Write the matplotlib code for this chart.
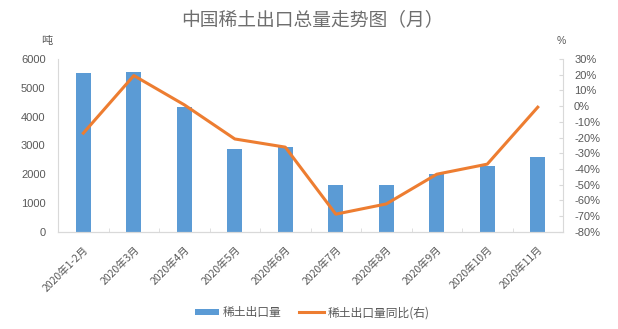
import matplotlib
matplotlib.use("Agg")
import matplotlib.pyplot as plt
import numpy as np

plt.rcParams['font.family'] = ['Noto Sans CJK SC', 'DejaVu Sans']

categories = ["2020年1-2月", "2020年3月", "2020年4月", "2020年5月", "2020年6月",
              "2020年7月", "2020年8月", "2020年9月", "2020年10月", "2020年11月"]
export_volume = [5500, 5560, 4330, 2870, 2950, 1640, 1640, 2010, 2300, 2600]
yoy_change = [-17.2, 19.4, 0.8, -20.9, -26.1, -68.7, -62.2, -43.3, -36.9, -0.7]

left_ticks = [0, 1000, 2000, 3000, 4000, 5000, 6000]
right_ticks = list(range(-80, 31, 10))

text_color = "#595959"
axis_color = "#D9D9D9"
bar_color = "#5B9BD5"
line_color = "#ED7D31"
num_font = ['Liberation Sans', 'DejaVu Sans']

fig = plt.figure(figsize=(6.18, 3.29), dpi=100)
ax = fig.add_axes([0.094, 0.295, 0.817, 0.526])
x = np.arange(len(categories))

ax.bar(x, export_volume, width=0.3, color=bar_color, label="稀土出口量", zorder=2)
ax.set_xlim(-0.5, len(categories) - 0.5)
ax.set_ylim(0, 6000)
ax.set_yticks(left_ticks)
ax.set_yticklabels([str(t) for t in left_ticks], fontsize=8, color=text_color,
                   family=num_font)
ax.set_xticks(x)
ax.set_xticklabels(categories, rotation=45, ha='right', rotation_mode='anchor',
                   fontsize=7.5, color=text_color)
ax.tick_params(axis='x', length=0, pad=9)
ax.set_xticks(np.arange(-0.5, len(categories) + 0.5, 1), minor=True)
ax.tick_params(axis='x', which='minor', length=3, direction='in', color=axis_color)
ax.tick_params(axis='y', length=0, pad=9)

ax2 = ax.twinx()
ax2.plot(x, yoy_change, color=line_color, linewidth=2.2, label="稀土出口量同比(右)", zorder=3)
ax2.set_ylim(-80, 30)
ax2.set_yticks(right_ticks)
ax2.set_yticklabels([f"{t}%" for t in right_ticks], fontsize=8, color=text_color,
                    family=num_font)
ax2.tick_params(axis='y', length=3, direction='in', color=axis_color, pad=8)

for a in (ax, ax2):
    a.spines['top'].set_visible(False)
    a.spines['bottom'].set_color(axis_color)
    a.spines['left'].set_color(axis_color)
    a.spines['right'].set_color(axis_color)
ax.spines['right'].set_visible(False)
ax2.spines['left'].set_visible(False)

fig.text(0.505, 0.938, "中国稀土出口总量走势图（月）", ha='center', va='center',
         fontsize=13.5, color="#6E6E6E", fontweight='light')
fig.text(0.076, 0.875, "吨", ha='center', va='center', fontsize=8, color=text_color)
fig.text(0.908, 0.875, "%", ha='center', va='center', fontsize=7.5, color=text_color,
         family=num_font)

handles = [ax.patches[0], ax2.lines[0]]
labels = ["稀土出口量", "稀土出口量同比(右)"]
fig.legend(handles, labels, loc='center', bbox_to_anchor=(0.505, 0.05), ncol=2,
           frameon=False, fontsize=8.5, labelcolor=text_color, handlelength=2.1,
           handleheight=0.4, handletextpad=0.3, columnspacing=1.5)

fig.savefig("out.png", dpi=100)
